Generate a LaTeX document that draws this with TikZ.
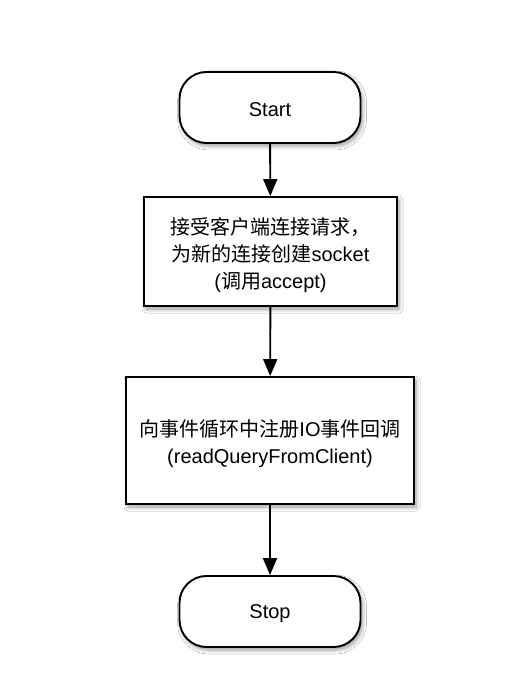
\documentclass[tikz,border=0pt]{standalone}
\usepackage{fontspec}
\setmainfont{Liberation Sans}
\newfontfamily\cjk{Noto Sans CJK SC}
\usetikzlibrary{arrows.meta,shadows.blur}
\begin{document}
\begin{tikzpicture}[x=1pt,y=-1pt,
  base/.style={draw=black, line width=1.9pt, fill=white, inner sep=0pt,
    blur shadow={shadow xshift=2pt, shadow yshift=-3pt, shadow blur steps=6, shadow opacity=40, shadow blur radius=4pt}},
  term/.style={base, rounded corners=27pt, minimum width=181pt, minimum height=71pt},
  proc/.style={base},
  txt/.style={align=center, inner sep=0pt, font=\fontsize{20}{27}\selectfont},
  arr/.style={line width=1.9pt, -{Triangle[width=14pt,length=17pt]}}]
\useasboundingbox (0,0) rectangle (520,700);
\fill[white] (0,0) rectangle (520,700);
\node[term] (start) at (270,107.5) {};
\node[proc, minimum width=253pt, minimum height=109pt] (accept) at (270.5,251.5) {};
\node[proc, minimum width=288pt, minimum height=127pt] (reg) at (270,440.5) {};
\node[term] (stop) at (270,611.5) {};
\node[txt] (starttxt) at ([yshift=-2pt]start.center) {Start};
\node[txt] (accepttxt) at ([yshift=-3.5pt]accept.center)
  {{\cjk 接受客户端连接请求，}\\{\cjk 为新的连接创建}socket\\({\cjk 调用}accept)};
\node[txt] (regtxt) at ([yshift=-3pt]reg.center)
  {{\cjk 向事件循环中注册}IO{\cjk 事件回调}\\(readQueryFromClient)};
\node[txt] (stoptxt) at ([yshift=-2.5pt]stop.center) {Stop};
\draw[arr] (start) -- (accept);
\draw[arr] (accept) -- (reg);
\draw[arr] (reg) -- (stop);
\end{tikzpicture}
\end{document}
